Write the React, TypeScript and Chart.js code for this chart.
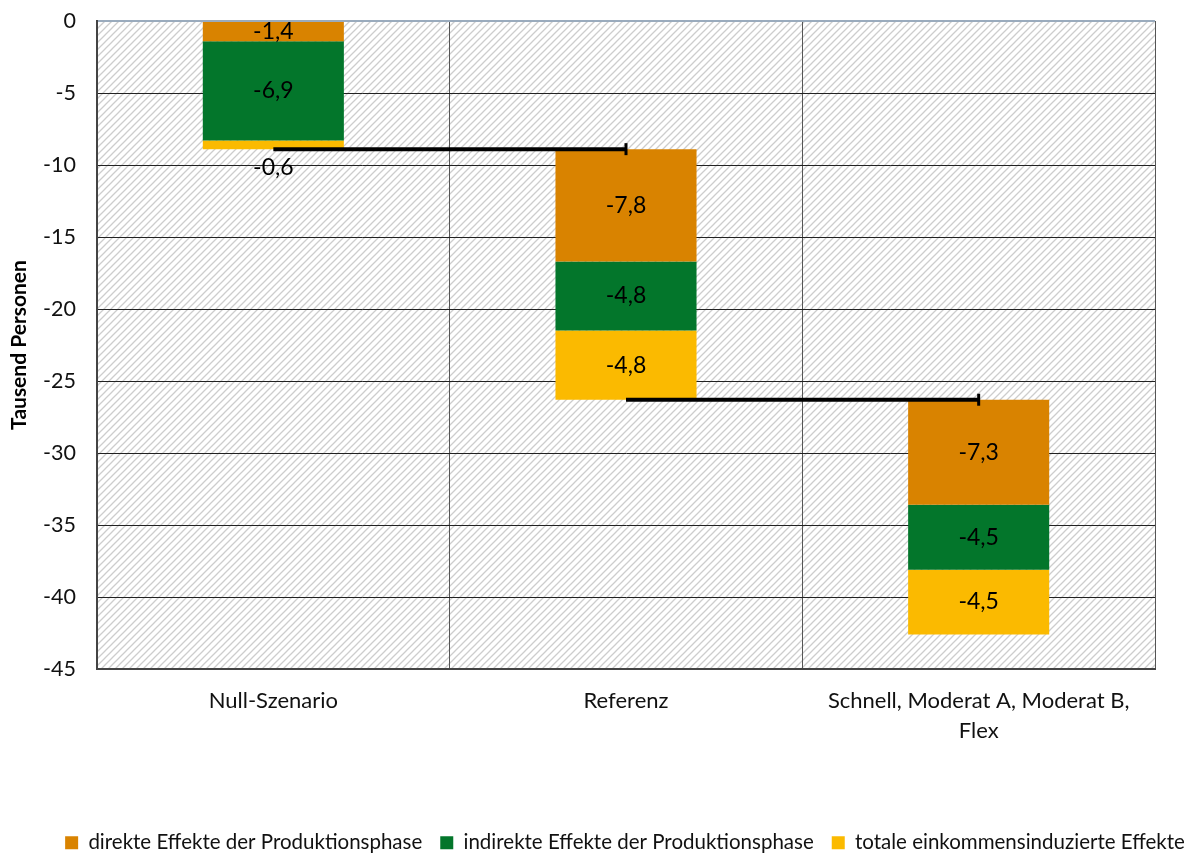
import React, { useEffect, useRef } from "react";
import { Chart, registerables } from "chart.js";
Chart.register(...registerables);

const categories: (string | string[])[] = [
  "Null-Szenario",
  "Referenz",
  ["Schnell, Moderat A, Moderat B,", "Flex"],
];
const seriesNames = [
  "direkte Effekte der Produktionsphase",
  "indirekte Effekte der Produktionsphase",
  "totale einkommensinduzierte Effekte",
];
const direkte = [-1.4, -7.8, -7.3];
const indirekte = [-6.9, -4.8, -4.5];
const totale = [-0.6, -4.8, -4.5];
const yMin = -45;
const yMax = 0;
const yStep = 5;
const colors = ["#D98300", "#03762B", "#FBBA00"];

const FONT = "Lato, 'Open Sans', sans-serif";

function buildFloating(series: number[][]) {
  const ranges = series.map(() => [] as [number, number][]);
  const ends: number[] = [];
  let cursor = 0;
  for (let c = 0; c < categories.length; c++) {
    for (let s = 0; s < series.length; s++) {
      const next = Math.round((cursor + series[s][c]) * 100) / 100;
      ranges[s].push([cursor, next]);
      cursor = next;
    }
    ends.push(cursor);
  }
  return { ranges, ends };
}

const fmt = (v: number) => v.toFixed(1).replace(".", ",");

function makePattern(ctx: CanvasRenderingContext2D) {
  const s = 7;
  const c = document.createElement("canvas");
  c.width = s;
  c.height = s;
  const g = c.getContext("2d")!;
  g.fillStyle = "#ffffff";
  g.fillRect(0, 0, s, s);
  g.strokeStyle = "#cdcdcd";
  g.lineWidth = 1.3;
  g.beginPath();
  g.moveTo(-1, s + 1);
  g.lineTo(s + 1, -1);
  g.moveTo(-1, 1);
  g.lineTo(1, -1);
  g.moveTo(s - 1, s + 1);
  g.lineTo(s + 1, s - 1);
  g.stroke();
  return ctx.createPattern(c, "repeat");
}

export default function App() {
  const ref = useRef<HTMLCanvasElement | null>(null);

  useEffect(() => {
    document.body.style.margin = "0";
    const canvas = ref.current!;
    const series = [direkte, indirekte, totale];
    const { ranges, ends } = buildFloating(series);

    const hatchPlugin = {
      id: "hatch",
      beforeDraw(chart: any) {
        const { ctx, chartArea } = chart;
        ctx.save();
        ctx.fillStyle = "#ffffff";
        ctx.fillRect(0, 0, chart.width, chart.height);
        const p = makePattern(ctx);
        if (p) {
          ctx.fillStyle = p;
          ctx.fillRect(chartArea.left, chartArea.top, chartArea.right - chartArea.left, chartArea.bottom - chartArea.top);
        }
        ctx.restore();
      },
    };

    const legendShift = {
      id: "legendShift",
      afterLayout(chart: any) {
        const lg = chart.legend;
        if (lg) {
          lg.left += 31;
          lg.right += 31;
        }
      },
    };

    const overlayPlugin = {
      id: "overlay",
      afterDatasetsDraw(chart: any) {
        const { ctx } = chart;
        const xs = chart.scales.x;
        const ys = chart.scales.y;
        ctx.save();
        for (let c = 0; c < ends.length - 1; c++) {
          const y = ys.getPixelForValue(ends[c]);
          const x1 = xs.getPixelForValue(c);
          const x2 = xs.getPixelForValue(c + 1);
          ctx.strokeStyle = "#000";
          ctx.lineWidth = 4;
          ctx.beginPath();
          ctx.moveTo(x1, y);
          ctx.lineTo(x2, y);
          ctx.stroke();
          ctx.fillStyle = "#000";
          ctx.fillRect(x2 - 1.5, y - 6, 3, 12);
        }
        ctx.font = `23px ${FONT}`;
        ctx.fillStyle = "#000";
        ctx.textAlign = "center";
        ctx.textBaseline = "middle";
        series.forEach((vals, i) => {
          const meta = chart.getDatasetMeta(i);
          meta.data.forEach((bar: any, j: number) => {
            const { x, y, base } = bar.getProps(["x", "y", "base"], true);
            const top = Math.min(y, base);
            const bottom = Math.max(y, base);
            const h = bottom - top;
            const ly = h < 18 ? bottom + 18 : (top + bottom) / 2;
            ctx.fillText(fmt(vals[j]), x, ly);
          });
        });
        ctx.restore();
      },
    };

    const chart = new Chart(canvas, {
      type: "bar",
      data: {
        labels: categories,
        datasets: series.map((_, i) => ({
          label: seriesNames[i],
          data: ranges[i],
          backgroundColor: colors[i],
          borderWidth: 0,
          grouped: false,
          barPercentage: 0.4,
          categoryPercentage: 1,
        })) as any,
      },
      options: {
        responsive: false,
        animation: false,
        devicePixelRatio: 1,
        layout: { padding: { top: 21, left: 0, right: 0, bottom: -8 } },
        plugins: {
          tooltip: { enabled: false },
          legend: {
            position: "bottom",
            labels: {
              boxWidth: 13,
              boxHeight: 13,
              padding: 18,
              color: "#111",
              font: { family: FONT, size: 20.5 },
            },
          },
        },
        scales: {
          x: {
            grid: { offset: true, color: "#555", lineWidth: 1, drawTicks: false },
            border: { color: "#444", width: 2 },
            ticks: {
              color: "#111",
              padding: 17,
              font: { family: FONT, size: 22, lineHeight: "30px" } as any,
              maxRotation: 0,
              autoSkip: false,
            },
            afterFit: (s: any) => {
              s.height = 145.5;
            },
          },
          y: {
            min: yMin,
            max: yMax,
            grid: {
              drawTicks: false,
              color: (c: any) => (c.tick && c.tick.value === 0 ? "#9aabbd" : "#222"),
              lineWidth: (c: any) => (c.tick && c.tick.value === 0 ? 2 : 1),
            },
            border: { color: "#444", width: 2 },
            ticks: {
              stepSize: yStep,
              padding: 21,
              color: "#111",
              font: { family: FONT, size: 21.5 },
              callback: (v: any) => String(v),
            },
            title: {
              display: true,
              text: "Tausend Personen",
              color: "#000",
              font: { family: FONT, size: 21, weight: "bold" },
              padding: { top: 7, bottom: 0 },
            },
            afterFit: (s: any) => {
              s.width = 97;
              s.paddingTop = 0;
              s.paddingBottom = 0;
            },
          },
          y2: {
            position: "right",
            display: true,
            grid: { display: false, drawOnChartArea: false, drawTicks: false },
            border: { display: false },
            ticks: { display: false },
            afterFit: (s: any) => {
              s.width = 33;
              s.paddingTop = 0;
              s.paddingBottom = 0;
            },
          },
        },
      } as any,
      plugins: [hatchPlugin, legendShift, overlayPlugin],
    });
    return () => chart.destroy();
  }, []);

  return (
    <div style={{ width: 1188, height: 855, position: "relative" }}>
      <canvas ref={ref} width={1188} height={855} style={{ width: 1188, height: 855, display: "block" }} />
    </div>
  );
}
